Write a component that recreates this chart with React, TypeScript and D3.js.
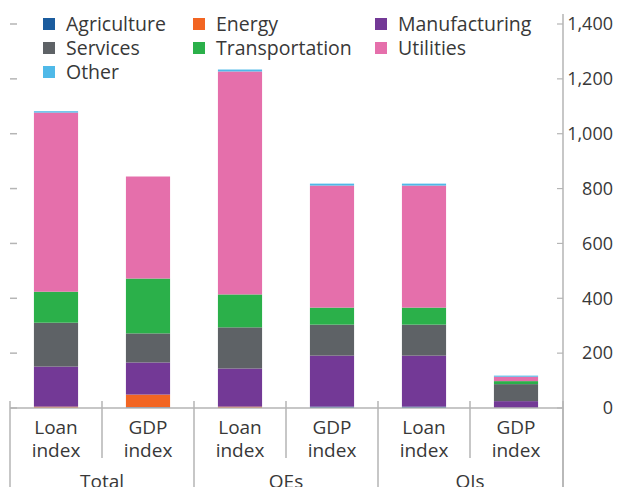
import React from "react";
import * as d3 from "d3";

const categories = ["Loan index", "GDP index", "Loan index", "GDP index", "Loan index", "GDP index"];
const groups = ["Total", "OEs", "OIs"];
const seriesNames = ["Agriculture", "Energy", "Manufacturing", "Services", "Transportation", "Utilities", "Other"];
const colors = ["#1b5c9e", "#f26522", "#733996", "#5e6266", "#2bb04a", "#e56fab", "#4fb9e8"];
const agriculture = [0, 3, 0, 5, 5, 0];
const energy = [5, 46, 5, 0, 0, 0];
const manufacturing = [146, 117, 139, 186, 186, 25];
const services = [160, 106, 150, 113, 113, 62];
const transportation = [113, 200, 120, 62, 62, 11];
const utilities = [653, 372, 813, 445, 445, 16];
const other = [5, 0, 7, 7, 7, 4];
const yTicks = [0, 200, 400, 600, 800, 1000, 1200, 1400];

const W = 617, H = 487;
const left = 10, right = 562, top = 24, bottom = 408;
const FONT = "'Open Sans', 'Noto Sans', sans-serif";
const TXT = "#383838";
const GRID = "#b5b5b5";

export default function App() {
  const seriesData = [agriculture, energy, manufacturing, services, transportation, utilities, other];
  const rows = categories.map((c, i) => {
    const r: any = { idx: i };
    seriesNames.forEach((s, k) => (r[s] = seriesData[k][i]));
    return r;
  });
  const stack = d3.stack<any>().keys(seriesNames)(rows);
  const x = d3.scaleBand<number>().domain(d3.range(categories.length)).range([left, right]).paddingInner(0).paddingOuter(0);
  const y = d3.scaleLinear().domain([0, 1400]).range([bottom, top]);
  const bw = x.bandwidth() * 0.48;

  const legendCols = [43, 193, 375];
  const legendRows = [24, 48, 72];

  return (
    <svg width={W} height={H} style={{ position: "absolute", left: 0, top: 0 }} fontFamily={FONT}>
      {/* bars */}
      {stack.map((s, k) => (
        <g key={k} fill={colors[k]}>
          {s.map((d, i) => {
            const h = y(d[0]) - y(d[1]);
            if (h <= 0) return null;
            return <rect key={i} x={x(i)! + (x.bandwidth() - bw) / 2} width={bw} y={y(d[1])} height={h} />;
          })}
        </g>
      ))}
      {/* baseline */}
      <line x1={left} x2={right + 1} y1={bottom} y2={bottom} stroke={GRID} strokeWidth={1.5} />
      {/* right axis */}
      <line x1={right + 1} x2={right + 1} y1={14} y2={H} stroke={GRID} strokeWidth={1.5} />
      {yTicks.map((t) => (
        <g key={t}>
          <line x1={right - 5} x2={right + 1} y1={y(t)} y2={y(t)} stroke={GRID} strokeWidth={1.2} />
          <line x1={left} x2={left + 7} y1={y(t)} y2={y(t)} stroke={GRID} strokeWidth={1.5} />
          <text x={613} y={y(t)} dy="0.35em" textAnchor="end" fontSize={18} fill={TXT}>
            {d3.format(",")(t)}
          </text>
        </g>
      ))}
      {/* category separators */}
      {d3.range(categories.length + 1).map((i) => {
        const xx = i < categories.length ? x(i)! : right + 1;
        const major = i % 2 === 0;
        return (
          <line key={i} x1={xx} x2={xx} y1={bottom - 7} y2={major ? H : 458} stroke={GRID} strokeWidth={1.5} />
        );
      })}
      {/* category labels */}
      {categories.map((c, i) => {
        const [a, b] = c.split(" ");
        const cx = x(i)! + x.bandwidth() / 2;
        return (
          <g key={i} fontSize={19} fill={TXT} textAnchor="middle">
            <text x={cx} y={434}>{a}</text>
            <text x={cx} y={457}>{b}</text>
          </g>
        );
      })}
      {groups.map((g, j) => {
        const cx = x(j * 2)! + x.bandwidth();
        return (
          <text key={g} x={cx} y={488} fontSize={19} fill={TXT} textAnchor="middle">
            {g}
          </text>
        );
      })}
      {/* legend */}
      {seriesNames.map((s, k) => {
        const col = k % 3, row = Math.floor(k / 3);
        const lx = legendCols[col], ly = legendRows[row];
        return (
          <g key={s}>
            <rect x={lx} y={ly - 6} width={12} height={12} fill={colors[k]} />
            <text x={lx + 23} y={ly} dy="0.35em" fontSize={19.5} fill={TXT}>
              {s}
            </text>
          </g>
        );
      })}
    </svg>
  );
}
